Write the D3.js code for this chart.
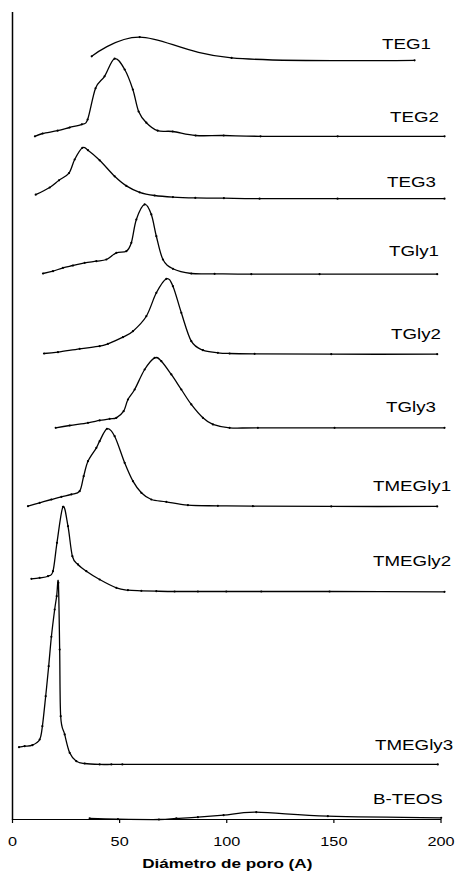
<!DOCTYPE html>
<html>
<head>
<meta charset="utf-8">
<script src="https://cdn.jsdelivr.net/npm/d3@7"></script>
<style>
  html, body { margin: 0; padding: 0; background: #fff; }
  svg { display: block; }
  text { font-family: "Liberation Sans", Arial, sans-serif; fill: #000; }
</style>
</head>
<body>
<svg id="chart" width="456" height="873"></svg>
<script>
// Pore-size distributions, stacked with a vertical offset per sample.
// x: pore diameter (Å); y: distribution value including each sample's offset.

const seriesNames = ["TEG1", "TEG2", "TEG3", "TGly1", "TGly2", "TGly3",
                     "TMEGly1", "TMEGly2", "TMEGly3", "B-TEOS"];

const tegOneX = [37.2, 59.6, 102.5, 187.9];
const tegOneY = [95.4, 97.8, 95.2, 94.9];

const tegTwoX = [10.7, 14.3, 21.3, 26.9, 32.6, 35.3, 39.0, 43.2, 47.9, 52.6, 56.4, 59.1, 62.7, 68.0, 75.0, 85.7, 98.8, 116.0, 152.0, 201.9];
const tegTwoY = [85.4, 85.75, 86.1, 86.5, 86.9, 87.5, 91.4, 92.9, 95.1, 93.75, 91.25, 88.5, 87.1, 86.1, 86.0, 85.5, 85.5, 85.4, 85.4, 85.4];

const tegThreeX = [11.06, 17.59, 21.93, 26.59, 29.25, 32.84, 35.46, 40.91, 47.91, 53.37, 59.57, 66.57, 75.11, 85.56, 98.90, 115.56, 151.95, 201.87];
const tegThreeY = [78.1, 79.0, 79.9, 80.8, 82.5, 83.96, 83.66, 82.4, 80.4, 79.2, 78.4, 78.0, 77.8, 77.7, 77.66, 77.6, 77.6, 77.6];

const tglyOneX = [14.46, 19.13, 23.79, 28.46, 33.92, 39.38, 44.04, 48.71, 53.37, 55.70, 58.04, 61.91, 65.03, 67.37, 70.45, 75.11, 83.69, 94.56, 111.69, 143.55, 198.46];
const tglyOneY = [68.25, 68.54, 68.96, 69.25, 69.59, 69.79, 70.0, 70.84, 71.04, 72.09, 75.0, 76.88, 75.63, 72.91, 70.0, 68.84, 68.25, 68.21, 68.16, 68.16, 68.16];

const tglyTwoX = [14.93, 21.46, 31.58, 40.91, 44.79, 51.78, 56.45, 62.70, 67.37, 72.03, 75.11, 79.03, 83.69, 89.11, 96.10, 101.56, 113.23, 149.01, 198.46];
const tglyTwoY = [58.25, 58.41, 58.84, 59.16, 59.46, 60.29, 61.04, 62.91, 65.84, 67.59, 66.66, 63.34, 59.79, 58.66, 58.34, 58.25, 58.21, 58.16, 58.16];

const tglyThreeX = [20.39, 26.92, 35.46, 40.91, 45.58, 48.71, 52.11, 54.12, 57.25, 61.91, 66.57, 69.70, 74.36, 79.03, 83.69, 89.11, 93.77, 101.56, 114.77, 150.55, 201.87];
const tglyThreeY = [48.96, 49.25, 49.59, 49.88, 50.09, 50.21, 51.04, 52.5, 53.75, 56.25, 57.71, 57.29, 55.63, 53.75, 51.88, 50.21, 49.38, 48.96, 48.96, 48.96, 48.96];

const tmeglyOneX = [7.46, 12.92, 18.38, 23.05, 27.71, 31.58, 33.45, 35.46, 39.37, 40.91, 44.32, 47.91, 52.58, 56.45, 60.37, 65.03, 72.03, 82.11, 96.10, 112.43, 149.01, 198.46];
const tmeglyOneY = [39.16, 39.59, 40.0, 40.34, 40.63, 41.04, 42.91, 44.79, 46.46, 47.29, 48.84, 47.91, 44.59, 42.29, 40.84, 40.0, 39.71, 39.29, 39.21, 39.16, 39.13, 39.13];

const tmeglyTwoX = [9.05, 12.92, 16.79, 19.13, 20.99, 23.79, 26.13, 28.18, 30.79, 34.71, 40.91, 48.71, 54.12, 60.37, 67.37, 75.90, 86.77, 100.02, 116.35, 148.22, 201.87];
const tmeglyTwoY = [30.09, 30.21, 30.41, 31.04, 34.59, 39.09, 36.66, 32.91, 31.88, 31.04, 30.0, 28.96, 28.66, 28.59, 28.54, 28.5, 28.5, 28.5, 28.5, 28.5, 28.46];

const tmeglyThreeX = [3.27, 5.92, 9.52, 12.92, 14.18, 15.72, 17.12, 18.38, 19.92, 20.85, 21.65, 22.25, 22.72, 24.59, 26.92, 30.04, 33.92, 40.91, 46.37, 51.50, 198.74];
const tmeglyThreeY = [9.04, 9.16, 9.29, 10.0, 11.66, 15.41, 19.16, 22.84, 26.25, 27.91, 29.59, 21.25, 12.91, 10.63, 8.34, 7.29, 7.0, 6.88, 6.88, 6.88, 6.88];

const bteosX = [36.25, 49.45, 68.58, 76.70, 86.77, 98.76, 114.02, 147.42, 200.33];
const bteosY = [0.13, 0.04, 0.0, 0.13, 0.29, 0.54, 0.91, 0.41, 0.21];

const xTicks = [0, 50, 100, 150, 200];
const xTitle = "Diámetro de poro (A)";

// Series label placement (left edge of text, baseline), in page pixels.
const labelLayout = [
  [382, 49], [390, 121.5], [387, 186.5], [389, 256], [391, 338.5],
  [386, 411.5], [373, 491], [373, 566], [375, 749.5], [373, 804]
];

const xs = [tegOneX, tegTwoX, tegThreeX, tglyOneX, tglyTwoX, tglyThreeX,
            tmeglyOneX, tmeglyTwoX, tmeglyThreeX, bteosX];
const ys = [tegOneY, tegTwoY, tegThreeY, tglyOneY, tglyTwoY, tglyThreeY,
            tmeglyOneY, tmeglyTwoY, tmeglyThreeY, bteosY];

const series = seriesNames.map((name, i) => ({
  name,
  points: xs[i].map((x, j) => ({ x, y: ys[i][j] }))
}));

const svg = d3.select("#chart");
const stretch = 1.25; // text is drawn horizontally widened

const x = d3.scaleLinear().domain([0, 200]).range([12, 440.5]);
const y = d3.scaleLinear().domain([0, 101]).range([819.5, 11.5]);

// Axes
const xAxis = svg.append("g")
  .attr("transform", "translate(0,819)")
  .call(d3.axisBottom(x).tickValues(xTicks).tickSizeInner(4).tickSizeOuter(0).tickPadding(0));
xAxis.select(".domain").attr("stroke", "#000").attr("stroke-width", 1.2);
xAxis.selectAll(".tick line").attr("stroke", "#000").attr("stroke-width", 1.2);
xAxis.selectAll(".tick text")
  .attr("y", 0).attr("dy", null)
  .attr("transform", `translate(0,27) scale(${stretch},1)`)
  .style("font-family", '"Liberation Sans", Arial, sans-serif')
  .style("font-size", "13px")
  .attr("fill", "#000");

const yAxis = svg.append("g")
  .attr("transform", "translate(12,0)")
  .call(d3.axisLeft(y).tickValues([]).tickSizeOuter(0));
yAxis.select(".domain").attr("stroke", "#000").attr("stroke-width", 1.5);

svg.append("text")
  .attr("transform", `translate(${(x.range()[0] + x.range()[1]) / 2 + 1},868) scale(${stretch},1)`)
  .attr("text-anchor", "middle")
  .style("font-size", "13.7px")
  .style("font-weight", "bold")
  .text(xTitle);

// Curves
const line = d3.line()
  .x(d => x(d.x))
  .y(d => y(d.y))
  .curve(d3.curveCardinal.tension(0));

const g = svg.append("g");
g.selectAll("path.curve")
  .data(series)
  .join("path")
  .attr("class", "curve")
  .attr("d", d => line(d.points))
  .attr("fill", "none")
  .attr("stroke", "#000")
  .attr("stroke-width", 1.3)
  .attr("stroke-linejoin", "round");

// Data markers
g.selectAll("g.markers")
  .data(series)
  .join("g")
  .attr("class", "markers")
  .selectAll("circle")
  .data(d => d.points)
  .join("circle")
  .attr("cx", d => x(d.x))
  .attr("cy", d => y(d.y))
  .attr("r", 1.1)
  .attr("fill", "#000");

// Sample labels
svg.selectAll("text.label")
  .data(series)
  .join("text")
  .attr("class", "label")
  .attr("transform", (d, i) => `translate(${labelLayout[i][0]},${labelLayout[i][1]}) scale(${stretch},1)`)
  .style("font-size", "15px")
  .text(d => d.name);
</script>
</body>
</html>
